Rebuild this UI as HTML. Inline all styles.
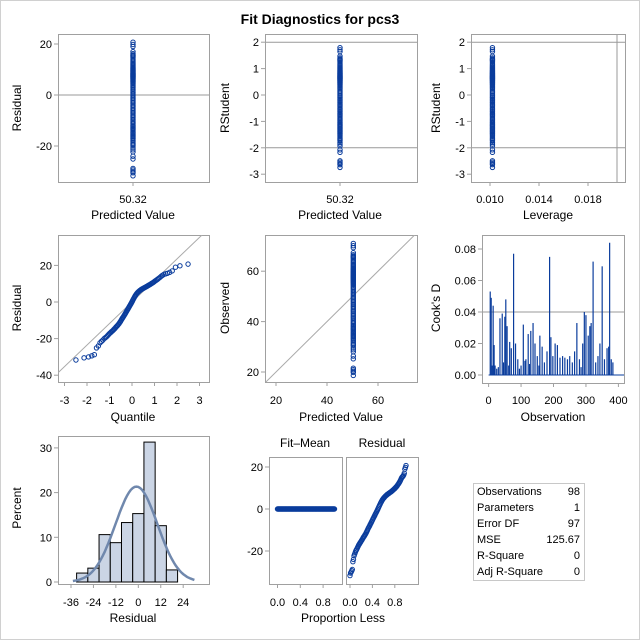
<!DOCTYPE html>
<html><head><meta charset="utf-8"><style>
body{margin:0;background:#fff}
svg{display:block;font-family:"Liberation Sans",sans-serif}
</style></head><body>
<svg id="c" width="640" height="640" viewBox="0 0 640 640" xmlns="http://www.w3.org/2000/svg">
<rect x="0.5" y="0.5" width="639" height="639" fill="#fff" stroke="#d0d0d0"/>
<text x="320" y="24" text-anchor="middle" font-size="14" font-weight="bold">Fit Diagnostics for pcs3</text>
<defs>
<clipPath id="cp4"><rect x="58" y="235" width="151" height="147"/></clipPath>
<clipPath id="cp5"><rect x="265" y="235" width="152" height="147"/></clipPath>
</defs>
</svg>
<script>
const residuals=[-31.7,-30.5,-30.0,-29.4,-28.8,-25.1,-24.0,-22.3,-21.5,-20.8,-20.0,-19.5,-19.0,-18.4,-17.8,-17.2,-16.8,-16.3,-15.9,-15.5,-15.0,-14.6,-14.1,-13.6,-13.2,-12.8,-12.3,-11.9,-11.3,-10.8,-10.2,-9.6,-9.0,-8.5,-8.0,-7.4,-6.9,-6.3,-5.8,-5.2,-4.6,-4.1,-3.5,-3.0,-2.4,-1.9,-1.3,-0.8,-0.2,0.4,1.0,1.6,2.2,2.8,3.3,3.8,4.3,4.7,5.1,5.4,5.7,6.0,6.3,6.5,6.8,7.0,7.2,7.4,7.6,7.8,8.0,8.2,8.4,8.6,8.9,9.1,9.4,9.6,9.9,10.2,10.5,10.8,11.2,11.6,12.0,12.4,12.9,13.4,14.0,14.6,15.1,15.4,15.7,16.2,17.0,19.0,19.8,20.7];
const predicted=50.32;
const rmse=11.21;
const leverage=0.0102;
const cookObs=[5,8,11,14,17,20,25,30,35,42,46,50,53,57,62,65,70,77,83,90,95,100,107,112,115,122,126,130,137,143,150,155,158,165,172,180,188,192,198,205,212,220,228,235,243,250,258,265,272,280,285,290,295,300,307,312,316,322,330,337,343,350,357,365,370,373,378,383];
const cookD=[0.053,0.049,0.006,0.044,0.019,0.006,0.004,0.005,0.036,0.039,0.008,0.037,0.048,0.031,0.006,0.021,0.017,0.077,0.020,0.010,0.004,0.006,0.032,0.009,0.010,0.026,0.007,0.028,0.033,0.020,0.012,0.006,0.025,0.018,0.008,0.015,0.075,0.024,0.012,0.020,0.019,0.011,0.012,0.011,0.010,0.012,0.008,0.015,0.033,0.010,0.005,0.020,0.040,0.038,0.025,0.031,0.033,0.072,0.008,0.012,0.020,0.069,0.010,0.017,0.018,0.084,0.010,0.008];
const histEdges=[-33,-27,-21,-15,-9,-3,3,9,15,21];
const histPct=[2.0,3.1,10.6,8.8,13.3,15.3,31.3,12.6,2.7];
const statLabels=["Observations","Parameters","Error DF","MSE","R-Square","Adj R-Square"];
const statValues=["98","1","97","125.67","0","0"];
const ticksRes=[20,0,-20];
const ticksRS=[2,1,0,-1,-2,-3];
const ticksLev=[0.010,0.014,0.018];
const ticksQ=[-3,-2,-1,0,1,2,3];
const ticksQY=[20,0,-20,-40];
const ticksObs=[20,40,60];
const ticksCookY=[0.00,0.02,0.04,0.06,0.08];
const ticksCookX=[0,100,200,300,400];
const ticksHistX=[-36,-24,-12,0,12,24];
const ticksHistY=[0,10,20,30];
const ticksProp=[0.0,0.4,0.8];
const ticksRF=[20,0,-20];

const svg=document.getElementById('c');
const NS='http://www.w3.org/2000/svg';
function mk(tag,attrs,parent){const e=document.createElementNS(NS,tag);for(const k in attrs)e.setAttribute(k,attrs[k]);(parent||svg).appendChild(e);return e;}
const BLUE='#0a3c9c', GRID='#a0a0a0';
function frame(x1,y1,x2,y2,name){const r=mk('rect',{x:x1+0.5,y:y1+0.5,width:x2-x1,height:y2-y1,fill:'none',stroke:GRID});

}
function hline(x1,x2,y,name){const l=mk('line',{x1:x1,x2:x2,y1:y,y2:y,stroke:'#999'});

}
function vline(x,y1,y2,name){const l=mk('line',{x1:x,x2:x,y1:y1,y2:y2,stroke:'#999'});

}
function txt(x,y,s,anchor,size,name,rot){const t=mk('text',{x:x,y:y,'text-anchor':anchor||'middle','font-size':size||11});
if(rot)t.setAttribute('transform','rotate(-90 '+x+' '+y+')');
t.textContent=s;

return t;}
function yticks(ticks,fy,xf,fmt,name){ticks.forEach(v=>{const y=fy(v);const l=mk('line',{x1:xf-4,x2:xf,y1:y,y2:y,stroke:GRID});


txt(xf-6,y+4,fmt?fmt(v):String(v),'end',11,name+'-label');});}
function xticks(ticks,fx,yf,fmt,name,ly){ticks.forEach(v=>{const x=fx(v);const l=mk('line',{x1:x,x2:x,y1:yf,y2:yf+4,stroke:GRID});


txt(x,ly,fmt?fmt(v):String(v),'middle',11,name+'-label');});}
function pt(x,y,name,parent){const c=mk('circle',{cx:x,cy:y,r:2.2,fill:'none',stroke:BLUE,'stroke-width':1},parent);

}
function normq(p){// inverse normal (Acklam approx)
const a=[-39.696830,220.946098,-275.928510,138.357751,-30.664798,2.506628],b=[-54.476098,161.585836,-155.698979,66.801311,-13.280681],c=[-0.007784894,-0.32239645,-2.400758,-2.549732,4.374664,2.938163],d=[0.007784695,0.32246712,2.445134,3.754408];
if(p<0.02425){const q=Math.sqrt(-2*Math.log(p));return(((((c[0]*q+c[1])*q+c[2])*q+c[3])*q+c[4])*q+c[5])/((((d[0]*q+d[1])*q+d[2])*q+d[3])*q+1);}
if(p>1-0.02425)return -normq(1-p);
const q=p-0.5,r=q*q;return(((((a[0]*r+a[1])*r+a[2])*r+a[3])*r+a[4])*r+a[5])*q/(((((b[0]*r+b[1])*r+b[2])*r+b[3])*r+b[4])*r+1);}
const n=residuals.length;

// Panel 1: residual vs predicted
frame(58,34,209,182,'residual-vs-predicted-frame');
const y1=v=>95-v*2.55;
hline(59,209,y1(0),'zero-reference-line');
yticks(ticksRes,y1,58,null,'residual-y');
xticks([predicted],v=>133,182,v=>v.toFixed(2),'predicted-x',203);
residuals.forEach(r=>pt(133,y1(r),'residual-point'));
txt(133,219,'Predicted Value','middle',12,'x-axis-title-predicted');
txt(21,108,'Residual','middle',12,'y-axis-title-residual',true);

// Panel 2: RStudent vs predicted
frame(265,34,417,182,'rstudent-vs-predicted-frame');
const y2=v=>95-v*26.4;
hline(266,417,y2(2),'rstudent-upper-ref');hline(266,417,y2(-2),'rstudent-lower-ref');
yticks(ticksRS,y2,265,null,'rstudent-y');
xticks([predicted],v=>340,182,v=>v.toFixed(2),'predicted-x2',203);
residuals.forEach(r=>pt(340,y2(r/rmse*0.97),'rstudent-point'));
txt(340,219,'Predicted Value','middle',12,'x-axis-title-predicted-2');
txt(229,108,'RStudent','middle',12,'y-axis-title-rstudent',true);

// Panel 3: RStudent vs leverage
frame(471,34,625,182,'rstudent-vs-leverage-frame');
const x3=v=>490+(v-0.010)*12250;
hline(472,625,y2(2),'lev-upper-ref');hline(472,625,y2(-2),'lev-lower-ref');
vline(617,35,182,'leverage-cutoff-line');
yticks(ticksRS,y2,471,null,'rstudent-y3');
xticks(ticksLev,x3,182,v=>v.toFixed(3),'leverage-x',203);
residuals.forEach(r=>pt(x3(leverage),y2(r/rmse*0.97),'leverage-point'));
txt(548,219,'Leverage','middle',12,'x-axis-title-leverage');
txt(440,108,'RStudent','middle',12,'y-axis-title-rstudent-3',true);

// Panel 4: QQ
frame(58,235,209,382,'qq-plot-frame');
const x4=v=>132+v*22.5, y4=v=>302-v*1.83;
const g4=mk('g',{'clip-path':'url(#cp4)'});
const dl=mk('line',{x1:x4(-4),y1:y4(-4*rmse*1.05),x2:x4(4),y2:y4(4*rmse*1.05),stroke:'#aaa'},g4);


yticks(ticksQY,y4,58,null,'qq-y');
xticks(ticksQ,x4,382,null,'quantile-x',404);
residuals.forEach((r,i)=>pt(x4(normq((i+0.625)/(n+0.25))),y4(r),'qq-point',g4));
txt(133,421,'Quantile','middle',12,'x-axis-title-quantile');
txt(21,308,'Residual','middle',12,'y-axis-title-residual-qq',true);

// Panel 5: observed vs predicted
frame(265,235,417,382,'observed-vs-predicted-frame');
const x5=v=>276+(v-20)*2.55, y5=v=>372-(v-20)*2.52;
const g5=mk('g',{'clip-path':'url(#cp5)'});
const dl5=mk('line',{x1:x5(10),y1:y5(10),x2:x5(80),y2:y5(80),stroke:'#aaa'},g5);


yticks(ticksObs,y5,265,null,'observed-y');
xticks(ticksObs,x5,382,null,'predicted-x5',404);
residuals.forEach(r=>pt(x5(predicted),y5(predicted+r),'observed-point',g5));
txt(341,421,'Predicted Value','middle',12,'x-axis-title-predicted-5');
txt(229,308,'Observed','middle',12,'y-axis-title-observed',true);

// Panel 6: Cook's D
frame(482,235,624,383,'cooks-d-frame');
const x6=v=>488.6+v*0.3245, y6=v=>375-v*1575;
hline(483,624,y6(0.04),'cooks-d-cutoff');
yticks(ticksCookY,y6,482,v=>v.toFixed(2),'cooks-y');
xticks(ticksCookX,x6,383,null,'observation-x',404);
cookObs.forEach((o,i)=>{const b=mk('line',{x1:x6(o),x2:x6(o),y1:y6(0),y2:y6(cookD[i]),stroke:BLUE,'stroke-width':1.2});

});
const bl=mk('line',{x1:x6(0),x2:624,y1:y6(0),y2:y6(0),stroke:BLUE});


txt(553,421,'Observation','middle',12,'x-axis-title-observation');
txt(440,308,"Cook's D",'middle',12,'y-axis-title-cooks-d',true);

// Panel 7: histogram
frame(58,436,209,584,'histogram-frame');
const x7=v=>71+(v+36)*1.87, y7=v=>582-v*4.47;
histPct.forEach((p,i)=>{const r=mk('rect',{x:x7(histEdges[i]),y:y7(p),width:x7(histEdges[i+1])-x7(histEdges[i]),height:y7(0)-y7(p),fill:'#cbd5e5',stroke:'#000'});

});
let d='';for(let v=-35;v<=30;v+=1){const p=6/(rmse*2.5066)*100*Math.exp(-0.5*Math.pow((v+1)/rmse,2));d+=(d?'L':'M')+x7(v).toFixed(1)+','+y7(p).toFixed(1);}
const cv=mk('path',{d:d,fill:'none',stroke:'#7088ad','stroke-width':2.5});


yticks(ticksHistY,y7,58,null,'percent-y');
xticks(ticksHistX,x7,584,null,'residual-x',606);
txt(133,622,'Residual','middle',12,'x-axis-title-residual-hist');
txt(21,508,'Percent','middle',12,'y-axis-title-percent',true);

// Panel 8: residual-fit spread
frame(269,457,342,584,'fit-mean-frame');
frame(346,457,418,584,'residual-spread-frame');
const y8=v=>509-v*2.1, x8a=v=>277.5+v*57, x8b=v=>350+v*56;
txt(305,447,'Fit–Mean','middle',12,'fit-mean-header');
txt(382,447,'Residual','middle',12,'residual-header');
yticks(ticksRF,y8,269,null,'rf-y');
xticks(ticksProp,x8a,584,v=>v.toFixed(1),'prop-x-left',606);
xticks(ticksProp,x8b,584,v=>v.toFixed(1),'prop-x-right',606);
residuals.forEach((r,i)=>{const p=i/(n-1);pt(x8a(p),y8(0),'fit-mean-point');pt(x8b(p),y8(r),'residual-spread-point');});
txt(343,622,'Proportion Less','middle',12,'x-axis-title-proportion-less');

// Stats table
const tb=mk('rect',{x:473.5,y:483.5,width:111,height:97,fill:'#fff',stroke:'#c8c8c8'});


statLabels.forEach((s,i)=>{const y=495+i*16;txt(477,y,s,'start',11,'stat-label');txt(580,y,statValues[i],'end',11,'stat-value');});
</script>
</body></html>
